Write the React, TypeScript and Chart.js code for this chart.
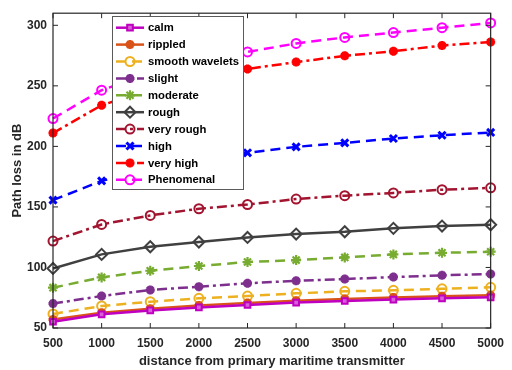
import React, { useEffect, useRef } from 'react';
import { Chart, registerables } from 'chart.js';
import { drawPoint } from 'chart.js/helpers';

Chart.register(...registerables);

const distances = [500, 1000, 1500, 2000, 2500, 3000, 3500, 4000, 4500, 5000];
const xTicks = [500, 1000, 1500, 2000, 2500, 3000, 3500, 4000, 4500, 5000];
const yTicks = [50, 100, 150, 200, 250, 300];

const seriesNames = ['calm', 'rippled', 'smooth wavelets', 'slight', 'moderate', 'rough', 'very rough', 'high', 'very high', 'Phenomenal'];

const calm = [55.2, 61.3, 64.5, 67.0, 69.0, 71.0, 72.3, 73.5, 74.5, 75.3];
const rippled = [57.0, 62.6, 66.0, 68.6, 70.6, 72.6, 74.0, 75.2, 76.2, 77.0];
const smoothWavelets = [61.6, 68.2, 71.7, 74.5, 76.4, 78.6, 80.3, 81.1, 82.4, 83.6];
const slight = [70.2, 76.4, 81.4, 84.1, 86.9, 89.0, 90.4, 92.1, 93.5, 94.6];
const moderate = [83.3, 91.8, 97.3, 101.2, 104.5, 106.1, 108.3, 110.8, 112.1, 113.0];
const rough = [99.2, 110.8, 117.1, 121.0, 124.8, 127.6, 129.5, 132.3, 134.2, 135.3];
const veryRough = [121.8, 135.5, 143.0, 148.5, 152.0, 156.5, 159.3, 161.6, 164.2, 165.8];
const high = [155.6, 171.5, 181.0, 188.5, 194.7, 199.6, 202.9, 206.5, 209.2, 211.5];
const veryHigh = [211.0, 234.0, 247.0, 256.5, 264.0, 269.6, 274.8, 278.6, 283.3, 286.3];
const phenomenal = [223.0, 246.4, 260.5, 270.5, 278.0, 285.0, 290.0, 294.0, 298.0, 302.0];

const seriesValues = [calm, rippled, smoothWavelets, slight, moderate, rough, veryRough, high, veryHigh, phenomenal];

const DASH = [10, 6];
const DASHDOT = [10, 4, 3, 4];

const styles = [
  { color: '#C000C0', fill: '#D860D8', dash: [], point: 'rect', radius: 4, pw: 2 },
  { color: '#D95319', fill: '#D95319', dash: [], point: 'star', radius: 4.5, pw: 3 },
  { color: '#EDB120', fill: 'rgba(0,0,0,0)', dash: DASH, point: 'circle', radius: 4.5, pw: 2 },
  { color: '#7E2F8E', fill: '#7E2F8E', dash: DASHDOT, point: 'star', radius: 4.5, pw: 3 },
  { color: '#77AC30', fill: '#77AC30', dash: DASH, point: 'star', radius: 5, pw: 2.2 },
  { color: '#404040', fill: 'rgba(0,0,0,0)', dash: [], point: 'rectRot', radius: 5.5, pw: 2 },
  { color: '#A2142F', fill: 'rgba(0,0,0,0)', dash: DASHDOT, point: 'circle', radius: 4.5, pw: 2 },
  { color: '#0000FF', fill: '#0000FF', dash: DASH, point: 'crossRot', radius: 5, pw: 3 },
  { color: '#FF0000', fill: '#FF0000', dash: DASHDOT, point: 'star', radius: 4.5, pw: 3 },
  { color: '#FF00FF', fill: 'rgba(0,0,0,0)', dash: DASH, point: 'circle', radius: 4.5, pw: 2 },
];

const FONT = "'Liberation Sans', Arial, Helvetica, sans-serif";
const AXIS_COLOR = '#262626';

const framePlugin = {
  id: 'matlabFrame',
  afterDraw(chart: any) {
    const { ctx, chartArea } = chart;
    const { left, right, top, bottom } = chartArea;
    const xs = chart.scales.x;
    const ys = chart.scales.y;
    ctx.save();
    ctx.setLineDash([]);
    ctx.strokeStyle = AXIS_COLOR;
    ctx.lineWidth = 1.2;
    ctx.strokeRect(left, top, right - left, bottom - top);
    ctx.lineWidth = 1;
    ctx.beginPath();
    xTicks.forEach((v) => {
      const px = xs.getPixelForValue(v);
      ctx.moveTo(px, bottom);
      ctx.lineTo(px, bottom - 5);
      ctx.moveTo(px, top);
      ctx.lineTo(px, top + 5);
    });
    yTicks.forEach((v) => {
      const py = ys.getPixelForValue(v);
      ctx.moveTo(left, py);
      ctx.lineTo(left + 5, py);
      ctx.moveTo(right, py);
      ctx.lineTo(right - 5, py);
    });
    ctx.stroke();

    // legend
    const bx = 112, by = 16, bw = 131, bh = 173;
    ctx.fillStyle = '#FFFFFF';
    ctx.fillRect(bx, by, bw, bh);
    ctx.strokeStyle = '#5a5a5a';
    ctx.lineWidth = 1;
    ctx.strokeRect(bx + 0.5, by + 0.5, bw, bh);
    ctx.font = `bold 11.3px ${FONT}`;
    ctx.textBaseline = 'middle';
    ctx.textAlign = 'left';
    seriesNames.forEach((name, i) => {
      const st = styles[i];
      const yy = 27.7 + i * 16.9;
      ctx.save();
      ctx.strokeStyle = st.color;
      ctx.lineWidth = 2.5;
      ctx.setLineDash(st.dash);
      ctx.beginPath();
      ctx.moveTo(116, yy);
      ctx.lineTo(144, yy);
      ctx.stroke();
      ctx.setLineDash([]);
      ctx.strokeStyle = st.color;
      ctx.fillStyle = st.fill;
      ctx.lineWidth = st.pw;
      drawPoint(ctx, { pointStyle: st.point as any, rotation: 0, radius: st.radius, borderWidth: st.pw }, 130, yy);
      ctx.restore();
      ctx.fillStyle = '#000000';
      ctx.fillText(name, 148, yy + 0.5);
    });
    ctx.restore();
  },
};

export default function App() {
  const canvasRef = useRef<HTMLCanvasElement | null>(null);

  useEffect(() => {
    const canvas = canvasRef.current;
    if (!canvas) return;
    const datasets = seriesNames.map((name, i) => ({
      label: name,
      data: distances.map((d, j) => ({ x: d, y: seriesValues[i][j] })),
      borderColor: styles[i].color,
      backgroundColor: styles[i].fill,
      borderWidth: 2.5,
      borderDash: styles[i].dash,
      pointStyle: styles[i].point as any,
      pointRadius: styles[i].radius,
      pointBorderWidth: styles[i].pw,
      pointBackgroundColor: styles[i].fill,
      pointBorderColor: styles[i].color,
      tension: 0,
      fill: false,
      clip: false as any,
    }));
    const chart = new Chart(canvas, {
      type: 'line',
      data: { datasets },
      options: {
        animation: false,
        responsive: false,
        maintainAspectRatio: false,
        layout: { padding: { top: 13, right: 12, left: 0, bottom: 0 } },
        plugins: {
          legend: { display: false },
          tooltip: { enabled: false },
        },
        scales: {
          x: {
            type: 'linear',
            min: 500,
            max: 5000,
            afterBuildTicks: (s: any) => {
              s.ticks = xTicks.map((v) => ({ value: v }));
            },
            afterFit: (s: any) => {
              s.height = 42;
            },
            grid: { display: false, drawTicks: false },
            border: { display: false },
            ticks: {
              padding: 8,
              color: AXIS_COLOR,
              font: { family: FONT, size: 12, weight: 'bold' },
              maxRotation: 0,
              autoSkip: false,
              callback: (v: any) => String(v),
            },
            title: {
              display: true,
              text: 'distance from primary maritime transmitter',
              color: AXIS_COLOR,
              font: { family: FONT, size: 13, weight: 'bold' },
              padding: { top: 0, bottom: 1 },
            },
          },
          y: {
            type: 'linear',
            min: 50,
            max: 310,
            afterBuildTicks: (s: any) => {
              s.ticks = yTicks.map((v) => ({ value: v }));
            },
            afterFit: (s: any) => {
              s.width = 53;
            },
            grid: { display: false, drawTicks: false },
            border: { display: false },
            ticks: {
              padding: 6,
              color: AXIS_COLOR,
              font: { family: FONT, size: 12, weight: 'bold' },
              autoSkip: false,
              callback: (v: any) => String(v),
            },
            title: {
              display: true,
              text: 'Path loss in dB',
              color: AXIS_COLOR,
              font: { family: FONT, size: 13, weight: 'bold' },
              padding: { top: 10, bottom: 0 },
            },
          },
        },
      },
      plugins: [framePlugin],
    });
    return () => chart.destroy();
  }, []);

  return (
    <div style={{ position: 'absolute', left: 0, top: 0, width: 512, height: 370, background: '#fff' }}>
      <canvas ref={canvasRef} width={512} height={370} style={{ width: 512, height: 370 }} />
    </div>
  );
}
